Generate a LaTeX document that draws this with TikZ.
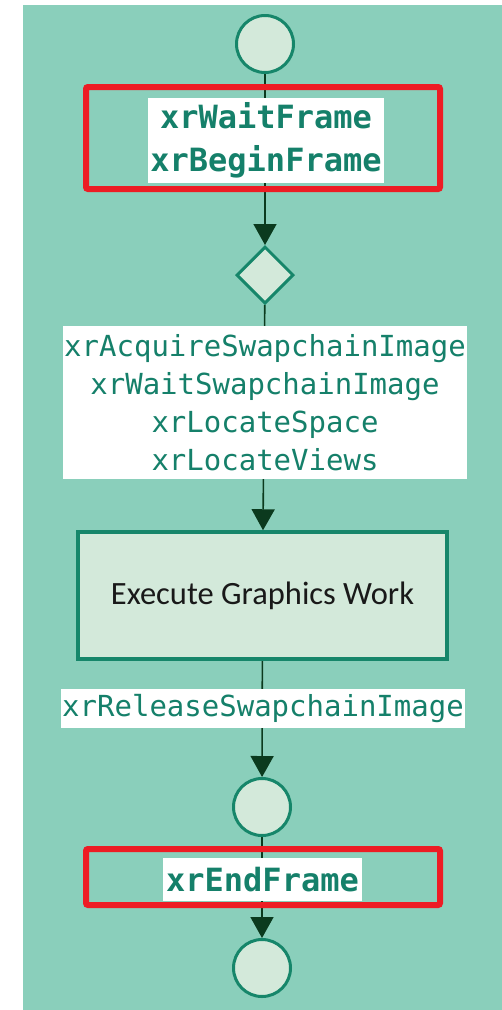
\documentclass[tikz,border=0pt]{standalone}
\usepackage{fontspec}
\setmonofont{DejaVu Sans Mono}
\setsansfont{Carlito}
\usepackage{xcolor}
\usepackage{tikz}
\usetikzlibrary{arrows.meta, positioning, shapes.geometric, backgrounds}

\definecolor{lanebg}{HTML}{8ACFBB}
\definecolor{nodefill}{HTML}{D3E9DA}
\definecolor{nodeline}{HTML}{16866A}
\definecolor{apitext}{HTML}{15806A}
\definecolor{flowline}{HTML}{0B3A1E}
\definecolor{hilite}{HTML}{ED1C24}

\begin{document}
\begin{tikzpicture}[
            x=1pt, y=-1pt,
            endpt/.style={circle, draw=nodeline, fill=nodefill, line width=3pt, minimum size=57pt, inner sep=0pt},
            choice/.style={diamond, draw=nodeline, fill=nodefill, line width=3pt, minimum width=57pt, minimum height=57pt, inner sep=0pt},
            workbox/.style={rectangle, draw=nodeline, fill=nodefill, line width=3.5pt, minimum width=369pt, minimum height=127pt, font=\sffamily\fontsize{32.5}{38}\selectfont, text=black!90},
            lbl/.style={fill=white, inner sep=0pt, align=center, text=apitext, font=\ttfamily\fontsize{29}{38}\selectfont},
            lblbold/.style={lbl, font=\ttfamily\bfseries\fontsize{32}{43}\selectfont},
            mark box/.style={draw=hilite, line width=6pt, rounded corners=2pt, minimum width=354pt, inner sep=0pt},
            flow/.style={draw=flowline, line width=1.6pt, -{Triangle[length=21pt, width=23pt]}},
        ]
        \useasboundingbox (0, 0) rectangle (502, 1010);
        % frame loop, top to bottom
        \node[endpt] (begin) at (265, 44) {};
        \node[lblbold, minimum width=236pt, minimum height=85pt] (waitcall) at (266, 140.5) {xrWaitFrame\\xrBeginFrame};
        \node[mark box, minimum height=102pt] (markwait) at (263, 138) {};
        \node[choice] (ready) at (265, 275) {};
        \node[lbl, minimum width=404pt, minimum height=153pt] (acqcall) at (265, 402.5) {xrAcquireSwapchainImage\\xrWaitSwapchainImage\\xrLocateSpace\\xrLocateViews};
        \node[workbox] (work) at (262.5, 595.5) {Execute Graphics Work};
        \node[lbl, minimum width=404pt, minimum height=39pt] (relcall) at (263, 708.5) {xrReleaseSwapchainImage};
        \node[endpt] (done) at (262, 807) {};
        \node[lblbold, minimum width=199pt, minimum height=43pt] (endcall) at (262.5, 879.5) {xrEndFrame};
        \node[mark box, minimum height=56pt] (markend) at (263, 877) {};
        \node[endpt] (finish) at (262, 968) {};
        \begin{scope}[on background layer]
            \fill[lanebg] (23, 5) rectangle (502, 1010);
            \draw[flow] (begin) -- (ready);
            \draw[flow] (ready) -- (work);
            \draw[flow] (work) -- (done);
            \draw[flow] (done) -- (finish);
        \end{scope}
    \end{tikzpicture}
\end{document}
